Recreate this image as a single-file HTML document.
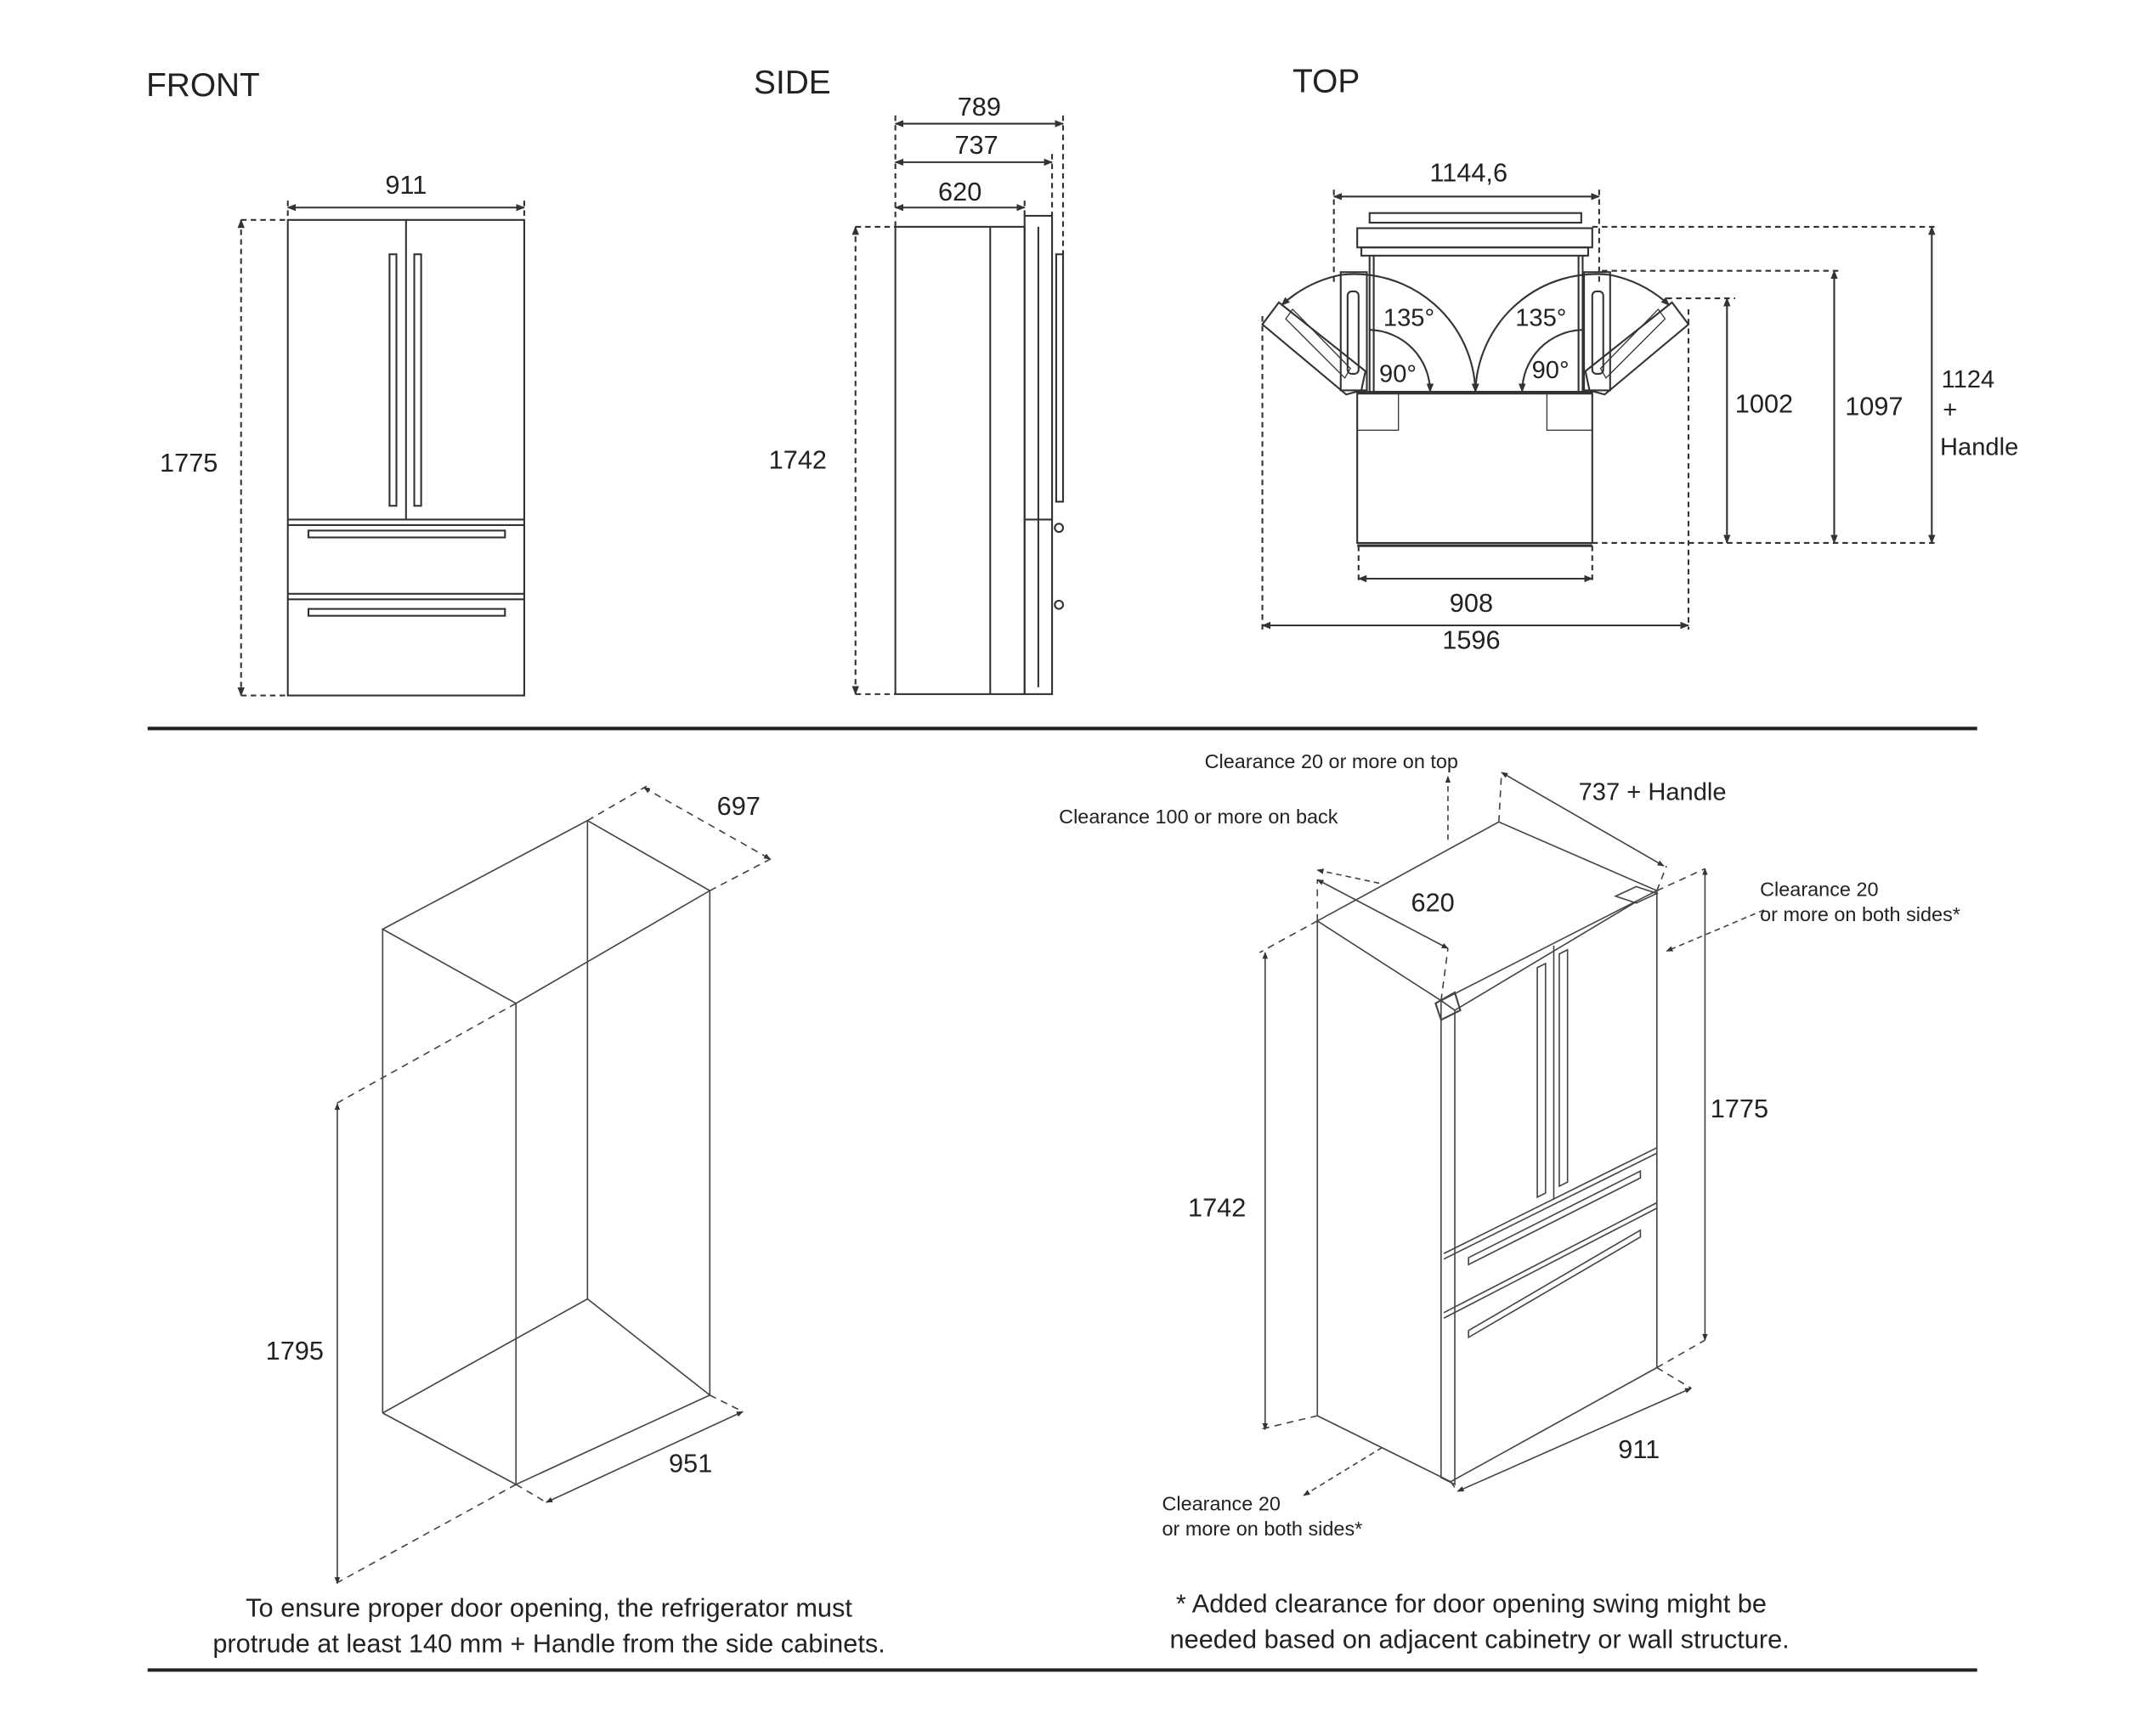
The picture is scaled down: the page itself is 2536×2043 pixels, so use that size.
<!DOCTYPE html>
<html><head><meta charset="utf-8"><style>
html,body{margin:0;padding:0;background:#fff;}
svg{display:block;}
text{font-family:"Liberation Sans",Arial,sans-serif;fill:#222;}
</style></head><body>
<svg width="2536" height="2043" viewBox="0 0 1567 1263" xmlns="http://www.w3.org/2000/svg">
<defs>
<marker id="a" viewBox="0 0 10 10" refX="9" refY="5" markerWidth="5" markerHeight="5" orient="auto-start-reverse"><path d="M0,1 L10,5 L0,9 z" fill="#333"/></marker>
</defs>
<rect width="1567" height="1263" fill="#fff"/>
<g stroke="#333" stroke-width="1.3" fill="none">
<!-- FRONT -->
<rect x="209" y="160" width="172" height="346"/>
<line x1="295" y1="160" x2="295" y2="378"/>
<line x1="209" y1="378" x2="381" y2="378"/><line x1="209" y1="382" x2="381" y2="382"/>
<line x1="209" y1="432" x2="381" y2="432"/><line x1="209" y1="436" x2="381" y2="436"/>
<rect x="283" y="185" width="5" height="183"/><rect x="301" y="185" width="5" height="183"/>
<rect x="224" y="386" width="143" height="5"/><rect x="224" y="443" width="143" height="5"/>
<line x1="209" y1="151" x2="381" y2="151" marker-start="url(#a)" marker-end="url(#a)"/>
<g stroke-dasharray="4,3"><line x1="175" y1="160" x2="209" y2="160"/><line x1="175" y1="506" x2="209" y2="506"/>
<line x1="209" y1="146" x2="209" y2="160"/><line x1="381" y1="146" x2="381" y2="160"/></g>
<line x1="175" y1="160" x2="175" y2="506" stroke-dasharray="4,3" marker-start="url(#a)" marker-end="url(#a)"/>
<!-- SIDE -->
<rect x="651" y="165" width="94" height="340"/>
<line x1="720" y1="165" x2="720" y2="505"/>
<rect x="745" y="157" width="20" height="348"/>
<line x1="755" y1="165" x2="755" y2="500"/>
<rect x="768" y="185" width="5" height="180"/>
<circle cx="770" cy="384" r="3"/><circle cx="770" cy="440" r="3"/>
<line x1="745" y1="378" x2="765" y2="378"/>
<line x1="651" y1="90" x2="773" y2="90" marker-start="url(#a)" marker-end="url(#a)"/>
<line x1="651" y1="118" x2="765" y2="118" marker-start="url(#a)" marker-end="url(#a)"/>
<line x1="651" y1="151" x2="745" y2="151" marker-start="url(#a)" marker-end="url(#a)"/>
<g stroke-dasharray="4,3"><line x1="651" y1="84" x2="651" y2="165"/><line x1="773" y1="84" x2="773" y2="185"/><line x1="765" y1="112" x2="765" y2="157"/><line x1="745" y1="146" x2="745" y2="157"/>
<line x1="622" y1="165" x2="651" y2="165"/><line x1="622" y1="505" x2="651" y2="505"/></g>
<line x1="622" y1="165" x2="622" y2="505" stroke-dasharray="4,3" marker-start="url(#a)" marker-end="url(#a)"/>
<!-- TOP -->
<rect x="996" y="155" width="154" height="7"/>
<rect x="987" y="166" width="171" height="14"/>
<rect x="990" y="180" width="165" height="6"/>
<line x1="996" y1="186" x2="996" y2="285"/><line x1="999" y1="186" x2="999" y2="285"/>
<line x1="1148" y1="186" x2="1148" y2="285"/><line x1="1151" y1="186" x2="1151" y2="285"/>
<rect x="987" y="285" width="171" height="110"/>
<line x1="987" y1="397" x2="1158" y2="397" stroke-width="2"/>
<line x1="987" y1="286" x2="1158" y2="286" stroke-width="2"/>
<rect x="987" y="286" width="30" height="27" stroke-width="0.8"/>
<rect x="1125" y="286" width="33" height="27" stroke-width="0.8"/>
<rect x="975" y="198" width="19" height="86"/><rect x="980" y="212" width="8" height="60" rx="3"/>
<rect x="1152" y="198" width="19" height="86"/><rect x="1158" y="212" width="8" height="60" rx="3"/>
<polygon points="990,284 979,287 918,236 930,220 993,270"/>
<polygon points="935,232 978,275 982,268 940,225" stroke-width="0.8"/>
<polygon points="1156,284 1167,287 1228,236 1216,220 1153,270"/>
<polygon points="1211,232 1168,275 1164,268 1206,225" stroke-width="0.8"/>
<path d="M975,200 A88,88 0 0 1 1073,285" marker-end="url(#a)"/>
<path d="M975,200 A90,90 0 0 0 932,222" marker-end="url(#a)"/>
<path d="M1171,200 A88,88 0 0 0 1073,285" marker-end="url(#a)"/>
<path d="M1171,200 A90,90 0 0 1 1214,222" marker-end="url(#a)"/>
<path d="M996,240 A45,45 0 0 1 1040,285" marker-end="url(#a)"/>
<path d="M1151,240 A45,45 0 0 0 1107,285" marker-end="url(#a)"/>
<line x1="970" y1="143" x2="1163" y2="143" marker-start="url(#a)" marker-end="url(#a)"/>
<g stroke-dasharray="4,3">
<line x1="970" y1="138" x2="970" y2="205"/><line x1="1163" y1="138" x2="1163" y2="205"/>
<line x1="1212" y1="217" x2="1262" y2="217"/><line x1="1165" y1="197" x2="1340" y2="197"/><line x1="1158" y1="165" x2="1410" y2="165"/>
<line x1="1158" y1="395" x2="1410" y2="395"/>
<line x1="988" y1="397" x2="988" y2="425"/><line x1="1158" y1="397" x2="1158" y2="425"/>
<line x1="918" y1="230" x2="918" y2="458"/><line x1="1228" y1="225" x2="1228" y2="458"/>
</g>
<line x1="1256" y1="217" x2="1256" y2="395" marker-start="url(#a)" marker-end="url(#a)"/>
<line x1="1334" y1="197" x2="1334" y2="395" marker-start="url(#a)" marker-end="url(#a)"/>
<line x1="1405" y1="165" x2="1405" y2="395" marker-start="url(#a)" marker-end="url(#a)"/>
<line x1="988" y1="421" x2="1158" y2="421" marker-start="url(#a)" marker-end="url(#a)"/>
<line x1="918" y1="455" x2="1228" y2="455" marker-start="url(#a)" marker-end="url(#a)"/>
</g>
<g stroke="#222" stroke-width="2.5">
<line x1="107" y1="530" x2="1438" y2="530"/>
<line x1="107" y1="1215" x2="1438" y2="1215"/>
</g>
<g stroke="#444" stroke-width="1" fill="none">
<!-- box -->
<polygon points="278,676 427,597 516,648 375,730"/>
<line x1="278" y1="676" x2="278" y2="1028"/><line x1="375" y1="730" x2="375" y2="1080"/>
<line x1="516" y1="648" x2="516" y2="1015"/><line x1="427" y1="597" x2="427" y2="945"/>
<polyline points="278,1028 375,1080 516,1015"/>
<polyline points="278,1028 427,945 516,1015"/>
<g stroke-dasharray="5,4">
<line x1="427" y1="597" x2="470" y2="572"/><line x1="516" y1="648" x2="562" y2="624"/>
<line x1="375" y1="1080" x2="397" y2="1093"/><line x1="516" y1="1015" x2="540" y2="1027"/>
<line x1="375" y1="730" x2="244" y2="803"/><line x1="375" y1="1080" x2="244" y2="1152"/>
</g>
<line x1="468" y1="573" x2="560" y2="625" stroke-dasharray="5,4" marker-start="url(#a)" marker-end="url(#a)"/>
<line x1="397" y1="1093" x2="540" y2="1027" marker-start="url(#a)" marker-end="url(#a)"/>
<line x1="245" y1="803" x2="245" y2="1152" marker-start="url(#a)" marker-end="url(#a)"/>
<!-- iso fridge -->
<polygon points="958,670 1090,598 1205,648 1048,728"/>
<line x1="958" y1="670" x2="958" y2="1030"/>
<polyline points="958,1030 1055,1078 1205,995 1205,648"/>
<polygon points="1048,728 1058,735 1058,1080 1048,1075"/>
<line x1="1058" y1="735" x2="1190" y2="656"/>
<polygon points="1175,652 1190,645 1205,650 1190,657"/>
<line x1="1050" y1="912" x2="1205" y2="835"/><line x1="1050" y1="916" x2="1205" y2="839"/>
<line x1="1050" y1="955" x2="1205" y2="875"/><line x1="1050" y1="959" x2="1205" y2="879"/>
<line x1="1130" y1="688" x2="1130" y2="873"/>
<polygon points="1118,704 1124,701 1124,868 1118,871"/>
<polygon points="1134,694 1140,691 1140,860 1134,863"/>
<polygon points="1068,915 1193,852 1193,857 1068,920"/>
<polygon points="1068,968 1193,895 1193,900 1068,973"/>
<polygon points="1044,730 1058,722 1062,735 1048,742" stroke-width="1.3"/>
<g stroke-dasharray="5,4">
<line x1="1090" y1="598" x2="1092" y2="562"/><line x1="1205" y1="648" x2="1212" y2="630"/>
<line x1="958" y1="670" x2="958" y2="640"/><line x1="1048" y1="728" x2="1053" y2="690"/>
<line x1="958" y1="670" x2="916" y2="693"/><line x1="958" y1="1030" x2="916" y2="1040"/>
<line x1="1205" y1="648" x2="1240" y2="632"/><line x1="1205" y1="995" x2="1240" y2="975"/>
<line x1="1055" y1="1078" x2="1060" y2="1085"/><line x1="1205" y1="995" x2="1230" y2="1010"/>
</g>
<line x1="1092" y1="562" x2="1210" y2="630" marker-start="url(#a)" marker-end="url(#a)"/>
<line x1="958" y1="640" x2="1053" y2="690" marker-start="url(#a)" marker-end="url(#a)"/>
<line x1="920" y1="693" x2="920" y2="1040" marker-start="url(#a)" marker-end="url(#a)"/>
<line x1="1240" y1="632" x2="1240" y2="975" marker-start="url(#a)" marker-end="url(#a)"/>
<line x1="1060" y1="1085" x2="1230" y2="1010" marker-start="url(#a)" marker-end="url(#a)"/>
<g stroke-dasharray="4,3">
<line x1="1053" y1="565" x2="1053" y2="612" marker-start="url(#a)"/>
<line x1="958" y1="633" x2="1005" y2="643" marker-start="url(#a)"/>
<line x1="1283" y1="662" x2="1212" y2="692" marker-end="url(#a)"/>
<line x1="948" y1="1088" x2="1007" y2="1052" marker-start="url(#a)"/>
</g>
</g>
<g font-size="24"><text x="106" y="70">FRONT</text><text x="548" y="68">SIDE</text><text x="940" y="67">TOP</text></g>
<g font-size="19" text-anchor="middle">
<text x="295" y="141">911</text><text x="137" y="343">1775</text>
<text x="712" y="84">789</text><text x="710" y="112">737</text><text x="698" y="146">620</text><text x="580" y="341">1742</text>
<text x="1068" y="132">1144,6</text><text x="1283" y="300">1002</text><text x="1363" y="302">1097</text>
<text x="1070" y="445">908</text><text x="1070" y="472">1596</text>
<text x="537" y="593">697</text><text x="502" y="1071">951</text><text x="214" y="989">1795</text>
<text x="1042" y="663">620</text><text x="885" y="885">1742</text><text x="1265" y="813">1775</text><text x="1192" y="1061">911</text>
</g>
<g font-size="18">
<text x="1006" y="237">135°</text><text x="1102" y="237">135°</text><text x="1003" y="278">90°</text><text x="1114" y="275">90°</text>
<text x="1412" y="282">1124</text><text x="1413" y="304">+</text><text x="1411" y="331">Handle</text>
<text x="1148" y="582">737 + Handle</text>
</g>
<g font-size="14.5">
<text x="876" y="559">Clearance 20 or more on top</text>
<text x="770" y="599">Clearance 100 or more on back</text>
<text x="1280" y="652">Clearance 20</text><text x="1280" y="670">or more on both sides*</text>
<text x="845" y="1099">Clearance 20</text><text x="845" y="1117">or more on both sides*</text>
</g>
<g font-size="19" text-anchor="middle">
<text x="399" y="1176">To ensure proper door opening, the refrigerator must</text>
<text x="399" y="1202">protrude at least 140 mm + Handle from the side cabinets.</text>
<text x="1070" y="1173">* Added clearance for door opening swing might be</text>
<text x="1076" y="1199">needed based on adjacent cabinetry  or wall structure.</text>
</g>
</svg>
</body></html>
